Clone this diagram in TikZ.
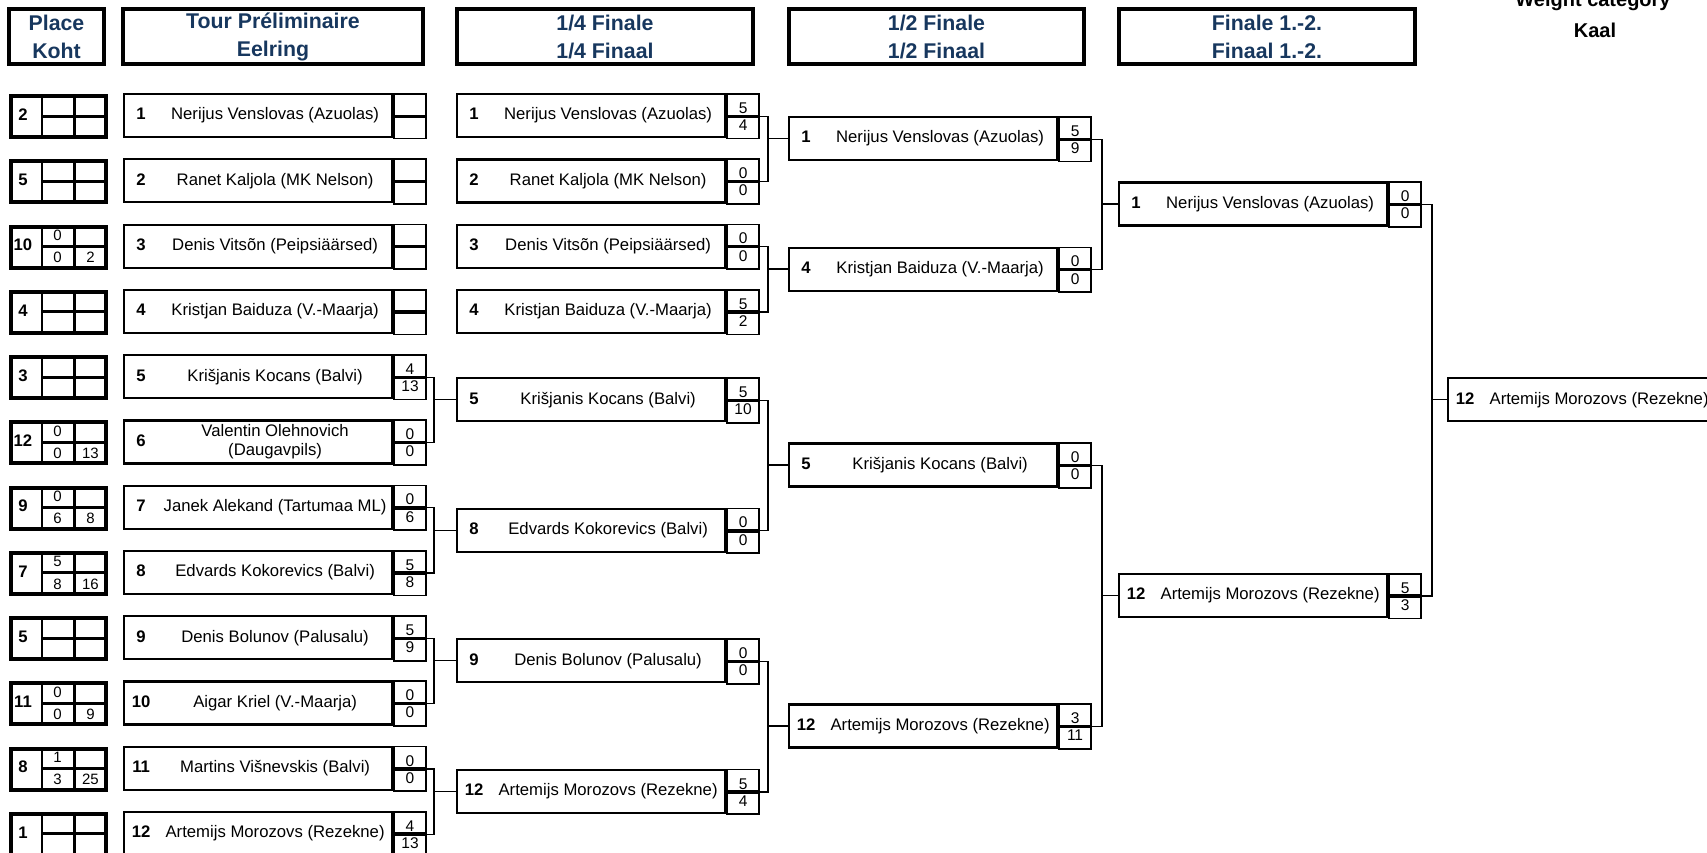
\documentclass[tikz,border=0pt]{standalone}
\usepackage{fontspec}
\setmainfont{Liberation Sans}
\usetikzlibrary{positioning}
\definecolor{headblue}{RGB}{23,55,94}
\newcommand\entrant[2]{\makebox[34pt]{\bfseries #1}\makebox[234pt]{#2}}

\begin{document}
\begin{tikzpicture}[
      x=1pt, y=-1pt,
      head/.style={draw, line width=3.8pt, minimum height=55.5pt, inner sep=0pt, align=center, text=headblue, font=\fontsize{21.3}{28}\selectfont\bfseries},
      weight/.style={anchor=base, font=\fontsize{20}{24}\selectfont\bfseries},
      place/.style={draw, line width=4pt, anchor=north west, minimum width=95pt, minimum height=41pt, inner sep=0pt},
      placenr/.style={font=\fontsize{16.7}{20}\selectfont\bfseries},
      cell/.style={draw, line width=1.5pt, anchor=north west, minimum width=31.5pt, minimum height=20.5pt, inner sep=0pt, font=\fontsize{15}{17}\selectfont},
      player/.style={draw, line width=2.2pt, anchor=north west, minimum height=43pt, inner sep=0pt, font=\fontsize{16.7}{19.5}\selectfont},
      upscore/.style={draw, line width=1.7pt, anchor=north west, minimum width=32pt, minimum height=21.5pt, inner sep=0pt, font=\fontsize{15.5}{17}\selectfont, text height=17.5pt, text depth=0pt},
      lowscore/.style={upscore, text height=11.5pt, text depth=6pt},
      link/.style={draw, line width=1.3pt}
      ]
      \useasboundingbox (0,0) rectangle (1707,852);
      \clip (0,0) rectangle (1707,852);

      %headers
      \node[head, minimum width=95.5pt] (hplace) at (56.5,36.5) {Place\\Koht};
      \node[head, minimum width=300.5pt] (hprelim) at (273,36.5) {Tour Préliminaire\\Eelring};
      \node[head, minimum width=296.5pt] (hquarter) at (605,36.5) {1/4 Finale\\1/4 Finaal};
      \node[head, minimum width=295.5pt] (hsemi) at (936.5,36.5) {1/2 Finale\\1/2 Finaal};
      \node[head, minimum width=296.5pt] (hfinal) at (1267,36.5) {Finale 1.-2.\\Finaal 1.-2.};
      \node[weight] (hweight) at (1593,6) {Weight category};
      \node[weight] (hkaal) at (1595,37) {Kaal};

      %places and preliminary round
      \foreach \row/\pl/\ka/\kb/\kc/\sd/\nm/\up/\lo in {
        1/2/{}/{}/{}/1/{Nerijus Venslovas (Azuolas)}/{}/{},
        2/5/{}/{}/{}/2/{Ranet Kaljola (MK Nelson)}/{}/{},
        3/10/0/0/2/3/{Denis Vitsõn (Peipsiäärsed)}/{}/{},
        4/4/{}/{}/{}/4/{Kristjan Baiduza (V.-Maarja)}/{}/{},
        5/3/{}/{}/{}/5/{Krišjanis Kocans (Balvi)}/4/13,
        6/12/0/0/13/6/{\begin{tabular}{@{}c@{}}Valentin Olehnovich\\(Daugavpils)\end{tabular}}/0/0,
        7/9/0/6/8/7/{Janek Alekand (Tartumaa ML)}/0/6,
        8/7/5/8/16/8/{Edvards Kokorevics (Balvi)}/5/8,
        9/5/{}/{}/{}/9/{Denis Bolunov (Palusalu)}/5/9,
        10/11/0/0/9/10/{Aigar Kriel (V.-Maarja)}/0/0,
        11/8/1/3/25/11/{Martins Višnevskis (Balvi)}/0/0,
        12/1/{}/{}/{}/12/{Artemijs Morozovs (Rezekne)}/4/13}{
        \pgfmathsetmacro\ty{92+(\row-1)*65.27}
        \node[cell] (ka\row) at (41,\ty+2) {\ka};
        \node[cell, below=0pt of ka\row] (kb\row) {\kb};
        \node[cell, right=0pt of ka\row] (kc\row) {};
        \node[cell, right=0pt of kb\row] (kd\row) {\kc};
        \node[place] (k\row) at (9,\ty+2) {};
        \node[placenr] (kn\row) at (23,\ty+22.5) {\pl};
        \node[player] (p\row) at (123,\ty+1) {\entrant{\sd}{\nm}};
        \node[upscore] (pa\row) at (p\row.north east) {\up};
        \node[lowscore, below=0pt of pa\row] (pb\row) {\lo};
      }

      %quarter finals
      \node[player] (q1) at (456,93) {\entrant{1}{Nerijus Venslovas (Azuolas)}};
      \node[upscore] (qa1) at (q1.north east) {5};
      \node[lowscore, below=0pt of qa1] (qb1) {4};
      \node[player] (q2) at (456,158.3) {\entrant{2}{Ranet Kaljola (MK Nelson)}};
      \node[upscore] (qa2) at (q2.north east) {0};
      \node[lowscore, below=0pt of qa2] (qb2) {0};
      \node[player] (q3) at (456,223.5) {\entrant{3}{Denis Vitsõn (Peipsiäärsed)}};
      \node[upscore] (qa3) at (q3.north east) {0};
      \node[lowscore, below=0pt of qa3] (qb3) {0};
      \node[player] (q4) at (456,288.8) {\entrant{4}{Kristjan Baiduza (V.-Maarja)}};
      \node[upscore] (qa4) at (q4.north east) {5};
      \node[lowscore, below=0pt of qa4] (qb4) {2};
      \node[player] (q5) at (456,377.1) {\entrant{5}{Krišjanis Kocans (Balvi)}};
      \node[upscore] (qa5) at (q5.north east) {5};
      \node[lowscore, below=0pt of qa5] (qb5) {10};
      \node[player] (q6) at (456,507.6) {\entrant{8}{Edvards Kokorevics (Balvi)}};
      \node[upscore] (qa6) at (q6.north east) {0};
      \node[lowscore, below=0pt of qa6] (qb6) {0};
      \node[player] (q7) at (456,638.2) {\entrant{9}{Denis Bolunov (Palusalu)}};
      \node[upscore] (qa7) at (q7.north east) {0};
      \node[lowscore, below=0pt of qa7] (qb7) {0};
      \node[player] (q8) at (456,768.7) {\entrant{12}{Artemijs Morozovs (Rezekne)}};
      \node[upscore] (qa8) at (q8.north east) {5};
      \node[lowscore, below=0pt of qa8] (qb8) {4};

      %semi finals
      \node[player] (s1) at (788,116) {\entrant{1}{Nerijus Venslovas (Azuolas)}};
      \node[upscore] (sa1) at (s1.north east) {5};
      \node[lowscore, below=0pt of sa1] (sb1) {9};
      \node[player] (s2) at (788,246.5) {\entrant{4}{Kristjan Baiduza (V.-Maarja)}};
      \node[upscore] (sa2) at (s2.north east) {0};
      \node[lowscore, below=0pt of sa2] (sb2) {0};
      \node[player] (s3) at (788,442.4) {\entrant{5}{Krišjanis Kocans (Balvi)}};
      \node[upscore] (sa3) at (s3.north east) {0};
      \node[lowscore, below=0pt of sa3] (sb3) {0};
      \node[player] (s4) at (788,703.4) {\entrant{12}{Artemijs Morozovs (Rezekne)}};
      \node[upscore] (sa4) at (s4.north east) {3};
      \node[lowscore, below=0pt of sa4] (sb4) {11};

      %final and winner
      \node[player] (f1) at (1118,181.3) {\entrant{1}{Nerijus Venslovas (Azuolas)}};
      \node[upscore] (fa1) at (f1.north east) {0};
      \node[lowscore, below=0pt of fa1] (fb1) {0};
      \node[player] (f2) at (1118,572.9) {\entrant{12}{Artemijs Morozovs (Rezekne)}};
      \node[upscore] (fa2) at (f2.north east) {5};
      \node[lowscore, below=0pt of fa2] (fb2) {3};
      \node[player] (winner) at (1447,377.1) {\entrant{12}{Artemijs Morozovs (Rezekne)}\makebox[62pt]{}};

      %preliminary edges
      \draw[link] (pa5.south east) -| ([xshift=-22pt]q5.west) -- (q5.west);
      \draw[link] (pa6.south east) -| ([xshift=-22pt]q5.west);
      \draw[link] (pa7.south east) -| ([xshift=-22pt]q6.west) -- (q6.west);
      \draw[link] (pa8.south east) -| ([xshift=-22pt]q6.west);
      \draw[link] (pa9.south east) -| ([xshift=-22pt]q7.west) -- (q7.west);
      \draw[link] (pa10.south east) -| ([xshift=-22pt]q7.west);
      \draw[link] (pa11.south east) -| ([xshift=-22pt]q8.west) -- (q8.west);
      \draw[link] (pa12.south east) -| ([xshift=-22pt]q8.west);

      %quarter final edges
      \draw[link] (qa1.south east) -| ([xshift=-20pt]s1.west) -- (s1.west);
      \draw[link] (qa2.south east) -| ([xshift=-20pt]s1.west);
      \draw[link] (qa3.south east) -| ([xshift=-20pt]s2.west) -- (s2.west);
      \draw[link] (qa4.south east) -| ([xshift=-20pt]s2.west);
      \draw[link] (qa5.south east) -| ([xshift=-20pt]s3.west) -- (s3.west);
      \draw[link] (qa6.south east) -| ([xshift=-20pt]s3.west);
      \draw[link] (qa7.south east) -| ([xshift=-20pt]s4.west) -- (s4.west);
      \draw[link] (qa8.south east) -| ([xshift=-20pt]s4.west);

      %semi final and final edges
      \draw[link] (sa1.south east) -| ([xshift=-16pt]f1.west) -- (f1.west);
      \draw[link] (sa2.south east) -| ([xshift=-16pt]f1.west);
      \draw[link] (sa3.south east) -| ([xshift=-16pt]f2.west) -- (f2.west);
      \draw[link] (sa4.south east) -| ([xshift=-16pt]f2.west);
      \draw[link] (fa1.south east) -| ([xshift=-15pt]winner.west) -- (winner.west);
      \draw[link] (fa2.south east) -| ([xshift=-15pt]winner.west);
\end{tikzpicture}
\end{document}
